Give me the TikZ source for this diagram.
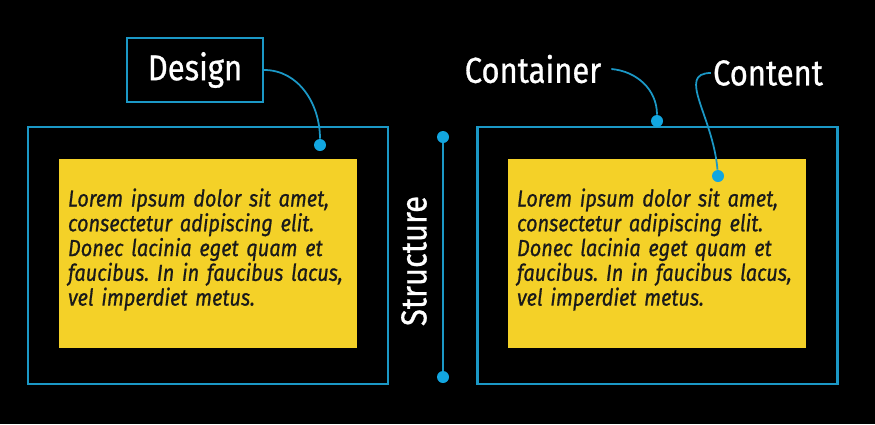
\documentclass[tikz,border=0pt]{standalone}
\usepackage{fontspec}
\setmainfont{Fira Sans}[FakeStretch=0.86,FakeBold=0.7]
\frenchspacing
\usetikzlibrary{positioning}
\definecolor{frame}{HTML}{1B98C6}
\definecolor{pin}{HTML}{12A6E0}
\definecolor{note}{HTML}{F4D128}
\definecolor{ink}{HTML}{1A1A1A}
\tikzset{
  frame/.style={draw=frame,line width=1.3pt,minimum width=7.2cm,minimum height=5.14cm},
  sheet/.style={fill=note,minimum width=5.96cm,minimum height=3.78cm},
  body/.style={text width=5.6cm,align=left,text=ink,inner sep=0pt,
    font=\itshape\fontsize{13.2}{14.1}\selectfont},
  label/.style={text=white,font=\fontsize{20.5}{24}\selectfont,inner sep=1pt},
  dot/.style={circle,fill=pin,inner sep=0pt,minimum size=0.24cm},
  lead/.style={draw=frame,line width=1pt}
}
\begin{document}
\begin{tikzpicture}[x=0.02cm,y=-0.02cm]
  \fill[black] (0,0) rectangle (875,424);
  \useasboundingbox (0,0) rectangle (875,424);

  % left side
  \node[frame] (leftframe) at (208,255.5) {};
  \node[sheet] (leftsheet) at (208,253.5) {};
  \node[body] (lefttext) at (208,249.5)
    {Lorem ipsum dolor sit amet,\\consectetur adipiscing elit.\\Donec lacinia eget quam et\\faucibus. In in faucibus lacus,\\vel imperdiet metus.};
  \node[label,draw=frame,line width=1.3pt,minimum width=2.72cm,minimum height=1.28cm]
    (design) at (195,70) {Design};
  \node[dot] (designdot) at (320,145) {};
  \draw[lead] (design.east) to[out=0,in=90] (designdot);

  % structure
  \node[dot] (structtop) at (443,137) {};
  \node[dot] (structbot) at (443,377) {};
  \draw[lead] (structtop) -- (structbot);
  \node[label,rotate=90] (structure) at (414,261) {Structure};

  % right side
  \node[frame] (rightframe) at (657.5,255.5) {};
  \node[sheet] (rightsheet) at (657,253.5) {};
  \node[body] (righttext) at (657,249.5)
    {Lorem ipsum dolor sit amet,\\consectetur adipiscing elit.\\Donec lacinia eget quam et\\faucibus. In in faucibus lacus,\\vel imperdiet metus.};
  \node[label] (container) at (533,69) {Container};
  \coordinate[right=8 of container.east] (containerend);
  \node[dot] (containerdot) at (657,121) {};
  \draw[lead] (containerend) to[out=-5,in=90] (containerdot);
  \node[label] (content) at (768,73) {Content};
  \node[dot] (contentdot) at (718,176) {};
  \draw[lead] (content.west) .. controls +(-35,0) and +(-5,-60) .. (contentdot);
\end{tikzpicture}
\end{document}
